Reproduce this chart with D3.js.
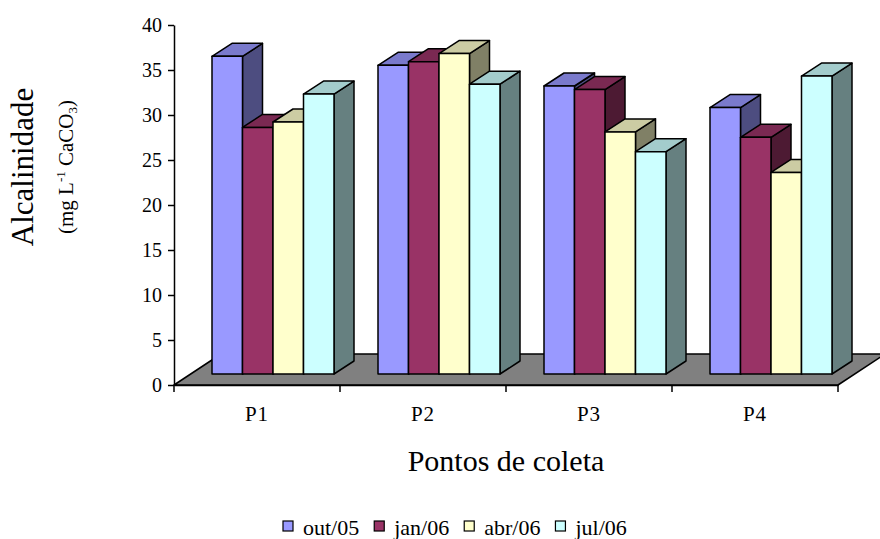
<!DOCTYPE html>
<html>
<head>
<meta charset="utf-8">
<script src="https://cdn.jsdelivr.net/npm/d3@7"></script>
<style>
  html, body { margin: 0; padding: 0; background: #fff; }
  svg { display: block; }
  svg text { font-family: "Liberation Serif", "Times New Roman", serif; fill: #000; }
</style>
</head>
<body>
<svg id="chart" width="880" height="539"></svg>
<script>
// Sampling points and campaigns
const categories = ["P1", "P2", "P3", "P4"];
const series = ["out/05", "jan/06", "abr/06", "jul/06"];

// Alkalinity (mg L-1 CaCO3) per campaign, one value per sampling point
const out05 = [35.3, 34.3, 32.0, 29.6];
const jan06 = [27.4, 34.7, 31.6, 26.3];
const abr06 = [28.0, 35.6, 26.9, 22.4];
const jul06 = [31.1, 32.2, 24.7, 33.1];

const yTicks = [0, 5, 10, 15, 20, 25, 30, 35, 40];

const seriesValues = [out05, jan06, abr06, jul06];
const frontColors = ["#9999FF", "#993366", "#FFFFCC", "#CCFFFF"];

const SERIF = "Liberation Serif, Times New Roman, serif";
const svg = d3.select("#chart");

// Front plane of the plot
const plotLeft = 174, plotRight = 838, plotTop = 25, plotBottom = 385;
const x = d3.scaleBand().domain(categories).range([plotLeft, plotRight]);
const y = d3.scaleLinear().domain([0, 40]).range([plotBottom, plotTop]);

// Oblique depth offsets (front of bars, back of bars, back of floor)
const front = { dx: 16, dy: -11 };
const back = { dx: 36, dy: -24 };
const floorBack = { dx: 47, dy: -31 };

const groupWidth = 122;
const xs = d3.scaleBand().domain(series).range([0, groupWidth]);

const shade = (c, k) => {
  const r = d3.rgb(c);
  return d3.rgb(r.r * k, r.g * k, r.b * k).formatHex();
};
const poly = pts => pts.map(p => p.join(",")).join(" ");

// Floor
svg.append("polygon")
  .attr("points", poly([
    [plotLeft, plotBottom], [plotRight, plotBottom],
    [plotRight + floorBack.dx, plotBottom + floorBack.dy],
    [plotLeft + floorBack.dx, plotBottom + floorBack.dy]
  ]))
  .attr("fill", "#808080")
  .attr("stroke", "#000")
  .attr("stroke-width", 1.5)
  .attr("stroke-linejoin", "round");

// Bars: for each point, draw columns left to right (side, top, front)
const bars = svg.append("g");
categories.forEach((cat, ci) => {
  const gx = x(cat) + (x.bandwidth() - groupWidth) / 2;
  series.forEach((s, si) => {
    const v = seriesValues[si][ci];
    const x0 = gx + xs(s), x1 = x0 + xs.bandwidth();
    const yv = y(v), y0 = y(0);
    const col = frontColors[si];
    const g = bars.append("g")
      .attr("stroke", "#000")
      .attr("stroke-width", 1.5)
      .attr("stroke-linejoin", "round");
    g.append("polygon")
      .attr("points", poly([
        [x1 + front.dx, yv + front.dy], [x1 + back.dx, yv + back.dy],
        [x1 + back.dx, y0 + back.dy], [x1 + front.dx, y0 + front.dy]
      ]))
      .attr("fill", shade(col, 0.5));
    g.append("polygon")
      .attr("points", poly([
        [x0 + front.dx, yv + front.dy], [x1 + front.dx, yv + front.dy],
        [x1 + back.dx, yv + back.dy], [x0 + back.dx, yv + back.dy]
      ]))
      .attr("fill", shade(col, 0.8));
    g.append("rect")
      .attr("x", x0 + front.dx)
      .attr("y", yv + front.dy)
      .attr("width", x1 - x0)
      .attr("height", y0 - yv)
      .attr("fill", col);
  });
});

// Value axis
const yAxis = svg.append("g")
  .attr("transform", `translate(${plotLeft},0)`)
  .call(d3.axisLeft(y).tickValues(yTicks).tickSize(6).tickSizeOuter(0).tickPadding(6));
yAxis.attr("font-family", SERIF);
yAxis.select(".domain").attr("stroke", "#000").attr("stroke-width", 1.5);
yAxis.selectAll(".tick line").attr("stroke", "#000").attr("stroke-width", 1.5);
yAxis.selectAll(".tick text")
  .attr("font-family", SERIF)
  .attr("font-size", 20)
  .attr("fill", "#000");

// Category axis
const xAxis = svg.append("g")
  .attr("transform", `translate(0,${plotBottom})`)
  .call(d3.axisBottom(x).tickSize(0).tickSizeOuter(0).tickPadding(21));
xAxis.attr("font-family", SERIF);
xAxis.select(".domain").attr("stroke", "#000").attr("stroke-width", 1.5);
xAxis.selectAll(".tick text")
  .attr("font-family", SERIF)
  .attr("font-size", 21)
  .attr("letter-spacing", 1)
  .attr("fill", "#000");
// Category boundary ticks
const bounds = categories.map(c => x(c)).concat([plotRight]);
xAxis.selectAll("line.bound").data(bounds).enter().append("line")
  .attr("class", "bound")
  .attr("x1", d => d).attr("x2", d => d)
  .attr("y1", 0).attr("y2", 7)
  .attr("stroke", "#000").attr("stroke-width", 1.5);

// Axis titles
svg.append("text")
  .attr("x", (plotLeft + plotRight) / 2)
  .attr("y", 471)
  .attr("text-anchor", "middle")
  .attr("font-family", SERIF)
  .attr("font-size", 30)
  .text("Pontos de coleta");

svg.append("text")
  .attr("transform", "translate(33,167) rotate(-90)")
  .attr("text-anchor", "middle")
  .attr("font-family", SERIF)
  .attr("font-size", 31)
  .text("Alcalinidade");

const unit = svg.append("text")
  .attr("transform", "translate(73,167) rotate(-90)")
  .attr("text-anchor", "middle")
  .attr("font-family", SERIF)
  .attr("font-size", 21);
unit.append("tspan").text("(mg L");
unit.append("tspan").attr("font-size", 13).attr("dy", -8).text("-1");
unit.append("tspan").attr("dy", 8).text(" CaCO");
unit.append("tspan").attr("font-size", 13).attr("dy", 4).text("3");
unit.append("tspan").attr("dy", -4).text(")");

// Legend
const legend = svg.append("g");
let lx = 283;
series.forEach((s, i) => {
  legend.append("rect")
    .attr("x", lx).attr("y", 521)
    .attr("width", 10).attr("height", 10)
    .attr("fill", frontColors[i])
    .attr("stroke", "#000").attr("stroke-width", 1.2);
  const t = legend.append("text")
    .attr("x", lx + 20).attr("y", 535)
    .attr("font-family", SERIF)
    .attr("font-size", 22)
    .text(s);
  lx += 20 + t.node().getComputedTextLength() + 15;
});
</script>
</body>
</html>
